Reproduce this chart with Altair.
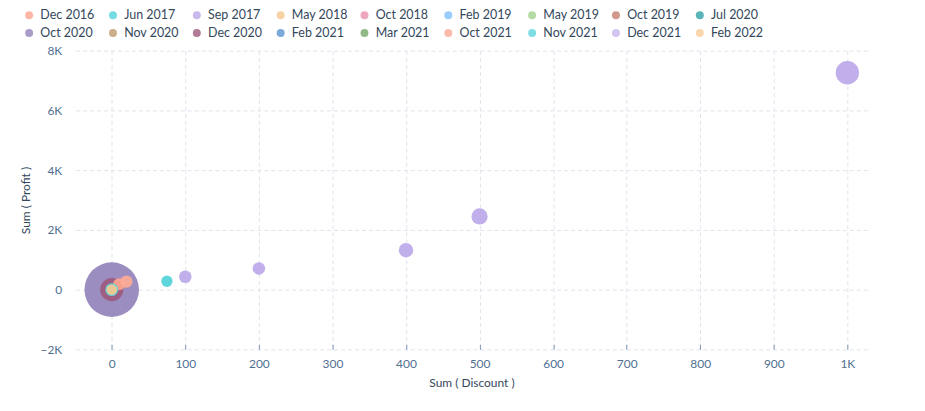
import altair as alt
import pandas as pd

# Legend order of the months
months = ["Dec 2016", "Jun 2017", "Sep 2017", "May 2018", "Oct 2018", "Feb 2019",
          "May 2019", "Oct 2019", "Jul 2020", "Oct 2020", "Nov 2020", "Dec 2020",
          "Feb 2021", "Mar 2021", "Oct 2021", "Nov 2021", "Dec 2021", "Feb 2022"]
colors = ["#fea58e", "#51d3d9", "#bca8e9", "#f5c78e", "#ea90b1", "#81c1fd",
          "#a2d28f", "#c57f6e", "#2fa2a5", "#9483bb", "#bf9a70", "#9e5a7e",
          "#5a94d2", "#78a66a", "#fdab96", "#5fd6dc", "#c8b6ee", "#f7cc98"]

# Points (in drawing order)
pt_month = ["Oct 2020", "Dec 2020",
            "Oct 2018", "Feb 2019", "May 2019", "Oct 2019", "Jul 2020",
            "Nov 2020", "Feb 2021", "Mar 2021", "Dec 2021", "Feb 2022",
            "Dec 2016", "Oct 2021", "Nov 2021", "May 2018",
            "Jun 2017", "Sep 2017", "Sep 2017", "Sep 2017", "Sep 2017", "Sep 2017"]
pt_discount = [0, 0,
               0, 0, 0, 0, 0,
               0, 0, 0, 0, 0,
               10, 20, 0, 0,
               75, 100, 200, 400, 500, 1000]
pt_profit = [0, 0,
             0, 0, 0, 0, 0,
             0, 0, 0, 0, 0,
             180, 270, 0, 0,
             280, 430, 710, 1320, 2450, 7260]
pt_count = [100, 18,
            3, 3, 3, 3, 3,
            3, 3, 3, 3, 3,
            5, 5, 5.6, 3.7,
            4.3, 5.3, 5.3, 7, 8.8, 18.3]

x_ticks = [0, 100, 200, 300, 400, 500, 600, 700, 800, 900, 1000]
y_ticks = [-2000, 0, 2000, 4000, 6000, 8000]

df = pd.DataFrame({"Month": pt_month, "Discount": pt_discount,
                   "Profit": pt_profit, "Count": pt_count})

FONT = "Lato"
label_expr = "replace(format(datum.value, '~s'), 'k', 'K')"

chart = alt.Chart(df).mark_circle(opacity=0.92).encode(
    x=alt.X("Discount:Q", title="Sum ( Discount )",
            scale=alt.Scale(domain=[-49, 1027], nice=False, zero=False),
            axis=alt.Axis(values=x_ticks, labelExpr=label_expr, offset=-5,
                          ticks=True, tickSize=5, tickColor="#7c98b6",
                          labelPadding=9, titlePadding=8)),
    y=alt.Y("Profit:Q", title="Sum ( Profit )",
            scale=alt.Scale(domain=[-2000, 8000], nice=False),
            axis=alt.Axis(values=y_ticks, labelExpr=label_expr, ticks=False,
                          labelPadding=14, titlePadding=8)),
    color=alt.Color("Month:N", scale=alt.Scale(domain=months, range=colors),
                    legend=alt.Legend(orient="none", legendX=-53, legendY=-42,
                                      direction="horizontal", columns=9, title=None,
                                      symbolType="circle", symbolSize=64,
                                      labelFontSize=12.5, labelColor="#33475b",
                                      labelFont=FONT, labelOffset=5,
                                      columnPadding=10.2, rowPadding=5,
                                      gridAlign="all", symbolOpacity=0.8)),
    size=alt.Size("Count:Q", scale=alt.Scale(domain=[0, 100], range=[0, 3000]),
                  legend=None),
).properties(
    width=795, height=300,
    autosize=alt.AutoSizeParams(type="none"),
    padding={"left": 68, "top": 42, "right": 50, "bottom": 55},
    background="white",
).configure_axis(
    labelFont=FONT, labelFontSize=12, labelColor="#516f90",
    titleFont=FONT, titleFontSize=12, titleColor="#33475b", titleFontWeight="normal",
    domain=False, grid=True, gridColor="#dfe3eb", gridDash=[4, 3], gridWidth=1,
).configure_view(stroke=None)

chart.save("out.html", embed_options={"renderer": "svg", "actions": False})
